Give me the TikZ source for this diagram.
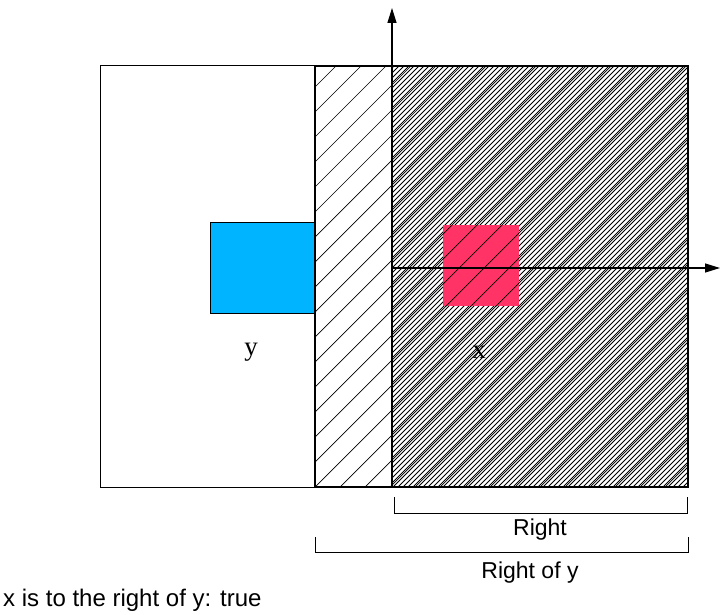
\documentclass[tikz,border=0pt]{standalone}
\usepackage{fontspec}
\setmainfont{Liberation Serif}
\setsansfont{Liberation Sans}
\usetikzlibrary{arrows.meta,positioning}

\definecolor{ybox}{RGB}{0,180,255}
\definecolor{xbox}{RGB}{255,51,102}

\begin{document}
\begin{tikzpicture}[x=1pt, y=-1pt,
    region/.style={draw, line width=1pt},
    hatch/.style={line width=0.7pt},
    densehatch/.style={line width=0.9pt},
    axis/.style={-{Triangle[length=15pt,width=9pt]}, line width=1.3pt},
    bracket/.style={line width=1pt},
    lbl/.style={font=\sffamily\fontsize{23}{27}\selectfont, inner sep=0pt},
    var/.style={font=\fontsize{27}{30}\selectfont, inner sep=0pt}
]
\useasboundingbox (0,0) rectangle (720,615);

% Region of y
\draw[region] (100,66) rectangle (315,487);

% Right of y: sparse hatching
\begin{scope}
\clip (315,66) rectangle (688,487);
\foreach \a in {-110,-85,...,700}
    \draw[hatch] (\a,487) -- (\a+421,66);
\end{scope}

% Right: dense hatching
\begin{scope}
\clip (392,66) rectangle (688,487);
\foreach \a in {-32,-27,...,692}
    \draw[densehatch] (\a,487) -- (\a+421,66);
\end{scope}

% Objects
\node[draw, fill=ybox, minimum width=105pt, minimum height=91pt, inner sep=0pt,
      anchor=north west, line width=1pt] (ybx) at (210,222) {};
\fill[xbox] (443,225) rectangle (519,306);
\begin{scope}
\clip (443,225) rectangle (519,306);
\foreach \a in {-110,-85,...,700}
    \draw[hatch] (\a,487) -- (\a+421,66);
\end{scope}

% Borders
\draw[line width=1.2pt] (315,66) -- (315,487);
\draw[line width=2.4pt] (315,66) -- (688,66) -- (688,487) -- (315,487);

% Axes
\coordinate (origin) at (392,268);
\coordinate (ybase) at (392,487);
\coordinate (ytop) at (392,8);
\coordinate (xend) at (720,268);
\draw[axis] (ybase) -- (ytop);
\draw[axis] (origin) -- (xend);

% Labels
\node[var] (ylabel) at (251,352) {y};
\node[var] (xlabel) at (479,352) {x};

% Brackets
\draw[bracket] (394,497) -- (394,513) -- (687,513) -- (687,497);
\node[lbl] (right) at (540,530) {Right};
\draw[bracket] (315,537) -- (315,552) -- (688,552) -- (688,537);
\node[lbl] (rightofy) at (530,573) {Right of y};

\node[lbl, anchor=west, font=\sffamily\fontsize{24}{28}\selectfont] (result) at (3,600) {x is to the right of y: true};

\end{tikzpicture}
\end{document}
